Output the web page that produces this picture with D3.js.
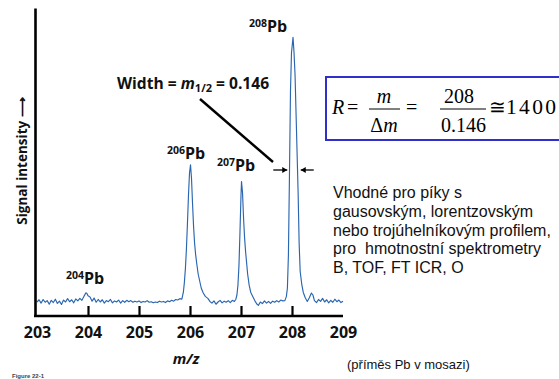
<!DOCTYPE html>
<html><head><meta charset="utf-8">
<script src="https://cdn.jsdelivr.net/npm/d3@7"></script>
<style>
html,body{margin:0;padding:0;background:#fff;}
svg{display:block;}
.lab{font-family:"Open Sans",sans-serif;font-weight:700;fill:#111;}
</style></head>
<body>
<svg id="c" width="559" height="379"></svg>
<script>
// m/z sample positions and signal intensity (arbitrary units)
const mzBase1 = [203.00,203.04,203.08,203.12,203.16,203.20,203.24,203.28,203.32,203.36,203.40,203.44,203.48,203.52,203.56,203.60,203.64,203.68,203.72,203.76,203.80,203.84,203.88,203.92,203.96,203.98,204.00,204.04,204.08,204.12,204.16,204.20,204.24,204.28,204.32,204.36,204.40,204.44,204.48,204.52,204.56,204.60,204.64,204.68,204.72,204.76,204.80,204.84,204.88,204.92,204.96,205.00,205.04,205.08,205.12,205.16,205.20,205.24,205.28,205.32,205.36,205.40,205.44,205.48,205.52,205.56,205.60,205.64,205.68,205.72,205.76,205.80];
const intBase1 = [5.0,5.8,4.6,5.9,4.9,5.5,4.2,5.6,4.8,6.0,4.5,5.3,4.1,5.7,5.0,6.2,5.1,5.8,4.7,6.1,5.4,6.3,5.6,7.0,8.3,8.0,7.2,6.8,5.3,6.4,4.9,5.9,5.0,5.8,4.6,5.5,5.1,5.9,4.7,5.4,5.0,5.7,4.6,5.5,4.9,5.6,5.1,5.5,4.9,5.3,5.0,5.4,4.8,5.2,5.0,5.5,4.9,5.1,4.7,5.0,4.8,5.3,5.0,5.2,4.8,5.4,5.1,5.6,5.3,5.9,5.7,6.2];
const mzPeak206 = [205.84,205.87,205.89,205.91,205.93,205.95,205.97,205.99,206.01,206.03,206.05,206.07,206.09,206.11,206.13,206.16,206.19,206.22,206.26,206.30,206.35];
const intPeak206 = [6.0,8.5,12,17,24,33,43,51,54,49,40,32,26,22,19,15,12.5,10,8.2,7.0,6.3];
const mzBase2 = [206.39,206.43,206.47,206.51,206.55,206.59,206.63,206.67,206.71,206.75,206.79,206.83,206.87];
const intBase2 = [5.2,4.6,5.4,4.2,5.0,5.6,4.7,5.3,4.9,5.5,4.8,5.6,5.2];
const mzPeak207 = [206.90,206.92,206.94,206.96,206.98,207.00,207.01,207.03,207.05,207.07,207.09,207.11,207.13,207.16,207.19,207.23,207.27];
const intPeak207 = [6.0,7.5,11,18,30,43,48,44,35,28,23,19,15,11,8.5,7,5.5];
const mzBase3 = [207.31,207.34,207.38,207.42,207.46,207.50,207.54,207.58,207.62,207.66,207.70,207.74,207.78,207.82];
const intBase3 = [4.3,3.8,5.0,4.4,5.4,4.6,5.2,4.5,5.3,4.9,5.5,5.0,5.7,5.4];
const mzPeak208 = [207.86,207.89,207.91,207.93,207.95,207.97,207.99,208.02,208.04,208.06,208.08,208.10,208.12,208.14,208.16,208.19,208.22,208.26,208.30,208.34,208.38,208.41];
const intPeak208 = [5.5,7,10,22,50,80,94,99.5,94,86,72,58,44,26,16,11.5,8.5,6.5,5.2,6.5,8.2,7.5];
const mzBase4 = [208.44,208.48,208.52,208.56,208.60,208.64,208.68,208.72,208.76,208.80,208.84,208.88,208.92,208.96,209.00];
const intBase4 = [5.5,4.8,5.9,5.2,6.3,5.0,5.8,4.7,5.6,4.9,6.0,5.1,5.7,4.8,5.3];

const tickValues = [203,204,205,206,207,208,209];
const tickLabels = ["203","204","205","206","207","208","209"];
const peakLabels = [
  {iso:"204", mz:204.0},
  {iso:"206", mz:206.0},
  {iso:"207", mz:207.0},
  {iso:"208", mz:208.0}
];
const fwhm = 0.146, massNominal = 208, resolution = 1400;

const mzAll = [].concat(mzBase1, mzPeak206, mzBase2, mzPeak207, mzBase3, mzPeak208, mzBase4);
const intAll = [].concat(intBase1, intPeak206, intBase2, intPeak207, intBase3, intPeak208, intBase4);
const spectrum = mzAll.map((m,i)=>({mz:m, v:intAll[i]}));

const svg = d3.select("#c");
const x = d3.scaleLinear().domain([203,209]).range([37,343]);
const y = d3.scaleLinear().domain([0,110]).range([316,8]);

// spectrum line
svg.append("path").datum(spectrum)
  .attr("fill","none").attr("stroke","#2a66b0").attr("stroke-width",1.15)
  .attr("stroke-linejoin","round")
  .attr("d", d3.line().x(d=>x(d.mz)).y(d=>y(d.v)));

// x axis
const xAxis = d3.axisBottom(x).tickValues(tickValues)
  .tickFormat((d,i)=>tickLabels[i]).tickSize(-10).tickSizeOuter(0).tickPadding(10);
const gx = svg.append("g").attr("transform",`translate(0,${y(0)})`).call(xAxis);
gx.select(".domain").attr("stroke","#000").attr("stroke-width",2.6).attr("d",`M${x(203)-3},0H${x(209)}`);
gx.selectAll(".tick line").attr("stroke","#000").attr("stroke-width",2.2)
  .attr("opacity",d=>(d===203||d===209)?0:1);
gx.selectAll(".tick text").attr("class","lab").attr("font-size",16).attr("fill","#111")
  .attr("dy","0.72em");

// y axis
const yAxis = d3.axisLeft(y).tickValues([]).tickSizeOuter(0);
const gy = svg.append("g").attr("transform",`translate(${x(203)-2},0)`).call(yAxis);
gy.select(".domain").attr("stroke","#000").attr("stroke-width",2.6);

// axis titles
svg.append("text").attr("class","lab").attr("font-size",15).attr("font-style","italic")
  .attr("x",x(206)-4).attr("y",364).attr("text-anchor","middle").text("m/z");
svg.append("text").attr("class","lab").attr("font-size",13.5)
  .attr("transform","translate(27,161) rotate(-90)").attr("text-anchor","middle")
  .text("Signal intensity ⟶");

// peak labels
const labelPos = {"204":[x(204)-22,284], "206":[x(206)-23,159], "207":[x(207)-24,171], "208":[x(208)-43,32]};
peakLabels.forEach(p=>{
  const t = svg.append("text").attr("class","lab").attr("font-size",16)
    .attr("x",labelPos[p.iso][0]).attr("y",labelPos[p.iso][1]);
  t.append("tspan").attr("font-size",10.5).attr("dy",-5).text(p.iso);
  t.append("tspan").attr("dy",5).text("Pb");
});

// width annotation
const wt = svg.append("text").attr("class","lab").attr("font-size",15.6).attr("x",117).attr("y",89);
wt.append("tspan").text("Width = ");
wt.append("tspan").attr("font-style","italic").text("m");
wt.append("tspan").attr("font-size",11).attr("dy",3).text("1/2");
wt.append("tspan").attr("dy",-3).text(" = " + fwhm.toFixed(3));

svg.append("line").attr("x1",200).attr("y1",99).attr("x2",273).attr("y2",162)
  .attr("stroke","#000").attr("stroke-width",2.4);

// FWHM arrows
const ah = 170;
const lx = x(208 - fwhm/2) - 1, rx = x(208 + fwhm/2) + 5;
function arrow(x0, x1){
  svg.append("line").attr("x1",x0).attr("y1",ah).attr("x2",x1).attr("y2",ah)
    .attr("stroke","#000").attr("stroke-width",1.3);
  const dir = Math.sign(x1-x0);
  svg.append("path").attr("d",`M${x1},${ah}L${x1-dir*5},${ah-3}L${x1-dir*5},${ah+3}Z`).attr("fill","#000");
}
arrow(lx-14, lx);
arrow(rx+13, rx);

// formula box
svg.append("rect").attr("x",326).attr("y",77).attr("width",240).attr("height",63)
  .attr("fill","#fff").attr("stroke","#3030c8").attr("stroke-width",2);
const f = svg.append("g").attr("font-family","'Liberation Serif','Times New Roman',serif").attr("font-size",20).attr("fill","#000");
f.append("text").attr("x",332).attr("y",114).attr("font-style","italic").text("R");
f.append("text").attr("x",347).attr("y",114).text("=");
f.append("text").attr("x",384).attr("y",103).attr("text-anchor","middle").attr("font-style","italic").text("m");
f.append("line").attr("x1",369).attr("x2",400).attr("y1",109).attr("y2",109).attr("stroke","#000").attr("stroke-width",1);
const dm = f.append("text").attr("x",384).attr("y",132).attr("text-anchor","middle");
dm.append("tspan").text("Δ"); dm.append("tspan").attr("font-style","italic").text("m");
f.append("text").attr("x",406).attr("y",114).text("=");
f.append("text").attr("x",459).attr("y",103).attr("text-anchor","middle").text(String(massNominal));
f.append("line").attr("x1",440).attr("x2",486).attr("y1",109).attr("y2",109).attr("stroke","#000").attr("stroke-width",1);
f.append("text").attr("x",463.5).attr("y",132).attr("text-anchor","middle").text(fwhm.toFixed(3));
f.append("text").attr("x",489).attr("y",114).text("≅");
f.append("text").attr("x",506).attr("y",114).attr("font-size",21.5).attr("textLength",50).attr("lengthAdjust","spacing").text(String(resolution));

// description
const lines = ["Vhodné pro píky s","gausovským, lorentzovským","nebo trojúhelníkovým profilem,","pro  hmotnostní spektrometry","B, TOF, FT ICR, O"];
const desc = svg.append("text").attr("font-family","'Liberation Sans',Arial,sans-serif").attr("font-size",16).attr("fill","#111")
  .attr("x",333).attr("y",198).attr("xml:space","preserve");
lines.forEach((l,i)=>desc.append("tspan").attr("x",333).attr("dy",i?18.8:0).text(l));

svg.append("text").attr("font-family","'Liberation Sans',Arial,sans-serif").attr("font-size",13).attr("fill","#111")
  .attr("x",347).attr("y",369).text("(příměs Pb v mosazi)");

svg.append("text").attr("font-family","'Liberation Sans',Arial,sans-serif").attr("font-size",6).attr("font-weight",700).attr("fill","#444")
  .attr("x",12).attr("y",378).text("Figure 22-1");
</script>
</body></html>
